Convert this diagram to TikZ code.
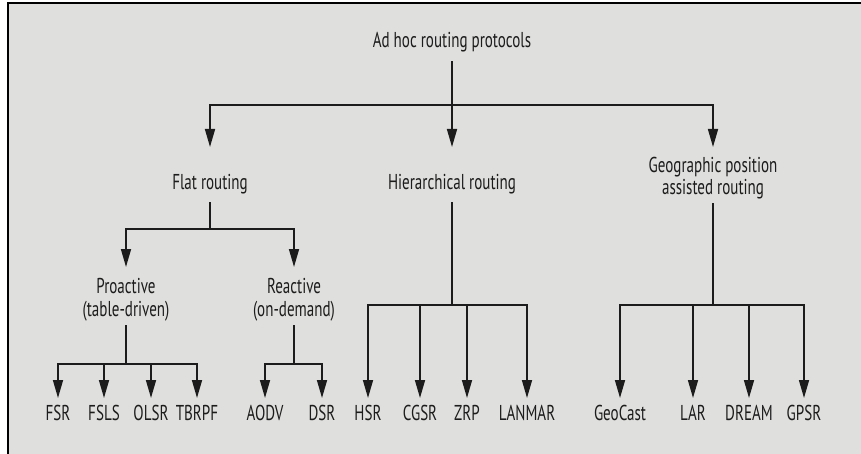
\documentclass[tikz,border=0pt]{standalone}
\usepackage{fontspec}
\setmainfont{PT Sans}[FakeStretch = 0.7]
\usetikzlibrary{arrows.meta}

\definecolor{panel}{RGB}{223,223,221}
\definecolor{ink}{RGB}{28,28,28}

\begin{document}
\begin{tikzpicture}[x = 1pt, y = -1pt, > = {Triangle[length = 18pt, width = 10pt]},
	every node/.style = {inner sep = 0pt, text = ink, font = \fontsize{21.5}{22.5}\selectfont},
	tag/.style = {text height = 15pt, text depth = 5pt},
	twoline/.style = {align = center},
	link/.style = {draw = ink, line width = 1.6pt}]

\useasboundingbox (0, 0) rectangle (861, 454);

	% Panel
	
	\fill [panel] (9, 4) rectangle (861, 454);
	\draw [line width = 2pt] (8, 454) -- (8, 3) -- (861, 3);
	
	% Labels
	
	\node [tag] (root) at (452, 43) {Ad hoc routing protocols};
	\node [tag] (flat) at (210, 185) {Flat routing};
	\node [tag] (hier) at (452, 185) {Hierarchical routing};
	\node [twoline] (geo) at (713, 178) {Geographic position\\assisted routing};
	\node [twoline] (pro) at (126, 300) {Proactive\\(table-driven)};
	\node [twoline] (rea) at (294, 300) {Reactive\\(on-demand)};
	
	\foreach \name/\x/\txt in {fsr/58/FSR, fsls/104/FSLS, olsr/151/OLSR, tbrpf/197/TBRPF,
		aodv/265/AODV, dsr/322/DSR, hsr/368/HSR, cgsr/420/CGSR, zrp/467/ZRP, lanmar/527/LANMAR,
		geocast/620/GeoCast, lar/693/LAR, dream/749/DREAM, gpsr/804/GPSR}
		\node [tag] (\name) at (\x, 415) {\txt};
	
	% Root to first level
	
	\draw [link] ([yshift = -8pt] root.south) -- (root |- 0, 105);
	\foreach \kid in {flat, hier, geo}
		\draw [link, ->] (root |- 0, 105) -| (\kid |- 0, 147);
	
	% Flat routing
	
	\draw [link] ([yshift = -7pt] flat.south) -- (flat |- 0, 229);
	\foreach \kid in {pro, rea}
		\draw [link, ->] (flat |- 0, 229) -| (\kid |- 0, 267);
	
	\draw [link] ([yshift = -4pt] pro.south) -- (pro |- 0, 364);
	\foreach \kid in {fsr, fsls, olsr, tbrpf}
		\draw [link, ->] (pro |- 0, 364) -| (\kid |- 0, 398);
	
	\draw [link] ([yshift = -4pt] rea.south) -- (rea |- 0, 364);
	\foreach \kid in {aodv, dsr}
		\draw [link, ->] (rea |- 0, 364) -| (\kid |- 0, 398);
	
	% Hierarchical routing
	
	\draw [link] ([yshift = -7pt] hier.south) -- (hier |- 0, 305);
	\foreach \kid in {hsr, cgsr, zrp, lanmar}
		\draw [link, ->] (hier |- 0, 305) -| (\kid |- 0, 398);
	
	% Geographic position assisted routing
	
	\draw [link] ([yshift = -4pt] geo.south) -- (geo |- 0, 305);
	\foreach \kid in {geocast, lar, dream, gpsr}
		\draw [link, ->] (geo |- 0, 305) -| (\kid |- 0, 398);

\end{tikzpicture}
\end{document}
